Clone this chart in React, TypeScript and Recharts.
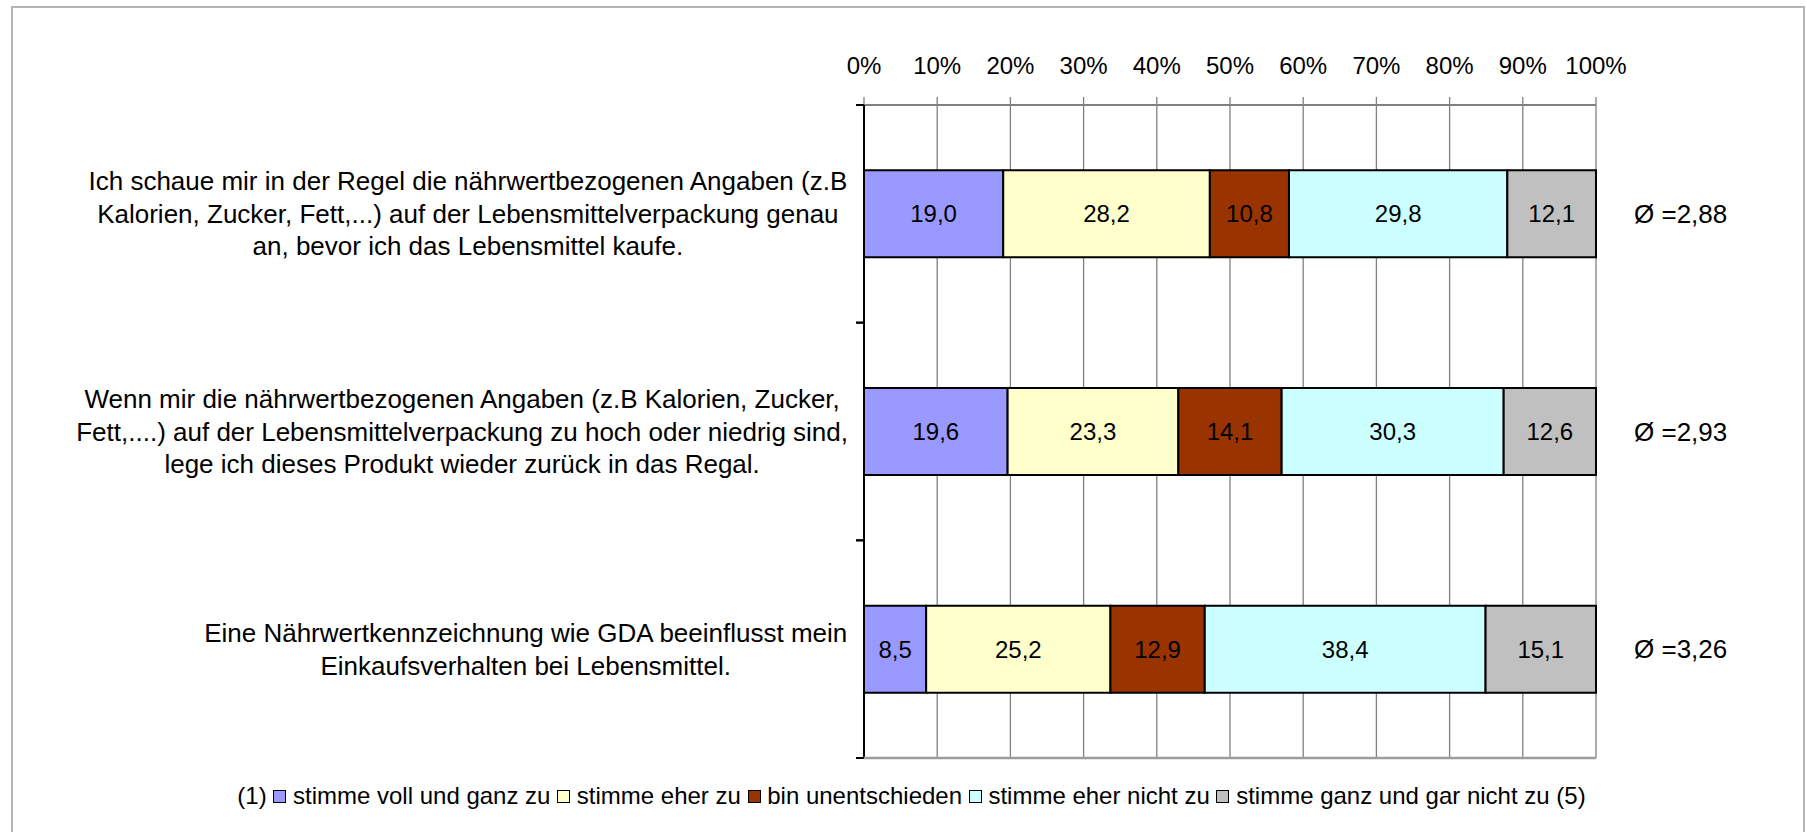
import { BarChart, Bar, XAxis, YAxis, CartesianGrid, LabelList } from "recharts";

const FONT = '"Liberation Sans", Arial, sans-serif';

const questionIds = ["q1", "q2", "q3"];
const statements = [
  [
    "Ich schaue mir in der Regel die nährwertbezogenen Angaben (z.B",
    "Kalorien, Zucker, Fett,...) auf der Lebensmittelverpackung genau",
    "an, bevor ich das Lebensmittel kaufe.",
  ],
  [
    "Wenn mir die nährwertbezogenen Angaben (z.B Kalorien, Zucker,",
    "Fett,....) auf der Lebensmittelverpackung zu hoch oder niedrig sind,",
    "lege ich dieses Produkt wieder zurück in das Regal.",
  ],
  [
    "Eine Nährwertkennzeichnung wie GDA beeinflusst mein",
    "Einkaufsverhalten bei Lebensmittel.",
  ],
];

const answers = [
  "stimme voll und ganz zu",
  "stimme eher zu",
  "bin unentschieden",
  "stimme eher nicht zu",
  "stimme ganz und gar nicht zu",
];
const answerColors = ["#9999FF", "#FFFFCC", "#993300", "#CCFFFF", "#C0C0C0"];

// percent of respondents per answer, one value per question
const vollUndGanz = [19.0, 19.6, 8.5];
const eherZu = [28.2, 23.3, 25.2];
const unentschieden = [10.8, 14.1, 12.9];
const eherNicht = [29.8, 30.3, 38.4];
const garNicht = [12.1, 12.6, 15.1];
const series = [vollUndGanz, eherZu, unentschieden, eherNicht, garNicht];

const averages = [2.88, 2.93, 3.26];
const percentTicks = [0, 10, 20, 30, 40, 50, 60, 70, 80, 90, 100];

const data = questionIds.map((id, i) => {
  const row: Record<string, number | string> = { id };
  series.forEach((s, k) => {
    row["a" + k] = s[i];
  });
  return row;
});

const CHART_W = 1807;
const CHART_H = 832;
const MARGIN = { top: 65, right: 211, bottom: 74, left: 0 };
const Y_AXIS_W = 864;
const PLOT_W = CHART_W - MARGIN.left - MARGIN.right - Y_AXIS_W;

const comma = (v: number, d: number) => v.toFixed(d).replace(".", ",");

let ctx: CanvasRenderingContext2D | null = null;
function textWidth(s: string, size: number) {
  if (!ctx) ctx = document.createElement("canvas").getContext("2d");
  if (!ctx) return s.length * size * 0.5;
  ctx.font = `${size}px "Liberation Sans"`;
  return ctx.measureText(s).width;
}

const LABEL_SIZE = 26;
const LINE_H = 32.5;

function StatementTick(props: any) {
  const { x, y, payload } = props;
  const idx = questionIds.indexOf(payload.value);
  const lines = statements[idx] || [];
  const block = Math.max(...lines.map((l) => textWidth(l, LABEL_SIZE)));
  const cx = x - block / 2;
  const axisX = x + 16;
  const half = payload.offset || 108;
  const y0 = y - ((lines.length - 1) * LINE_H) / 2;
  const isLast = idx === questionIds.length - 1;
  return (
    <g>
      {isLast && (
        // plot area bottom border
        <line
          x1={axisX}
          x2={axisX + PLOT_W}
          y1={y + half}
          y2={y + half}
          stroke="#9c9c9c"
          strokeWidth={2.5}
        />
      )}
      <line x1={axisX - 8} x2={axisX} y1={y - half} y2={y - half} stroke="#000" strokeWidth={2} />
      <line x1={axisX - 8} x2={axisX} y1={y + half} y2={y + half} stroke="#000" strokeWidth={2} />
      <text textAnchor="middle" fontSize={LABEL_SIZE} fontFamily={FONT} fill="#000">
        {lines.map((l, i) => (
          <tspan key={i} x={cx} y={y0 + i * LINE_H} dy="0.35em">
            {l}
          </tspan>
        ))}
      </text>
    </g>
  );
}

function valueLabel(k: number) {
  return (p: any) => (
    <text
      x={p.x + p.width / 2}
      y={p.y + p.height / 2}
      dy="0.35em"
      textAnchor="middle"
      fontSize={24}
      fontFamily={FONT}
      fill="#000"
    >
      {comma(series[k][p.index], 1)}
    </text>
  );
}

const averageLabel = (p: any) => (
  <text
    x={p.x + p.width + 38}
    y={p.y + p.height / 2}
    dy="0.35em"
    textAnchor="start"
    fontSize={26}
    fontFamily={FONT}
    fill="#000"
  >
    {"Ø =" + comma(averages[p.index], 2)}
  </text>
);

export default function App() {
  return (
    <div
      style={{
        position: "absolute",
        left: 0,
        top: 0,
        width: CHART_W,
        height: CHART_H,
        overflow: "hidden",
        background: "#fff",
        fontFamily: FONT,
      }}
    >
      <div
        style={{
          position: "absolute",
          left: 11,
          top: 6,
          width: 1790,
          height: 900,
          borderLeft: "2px solid #b4b4b4",
          borderTop: "2px solid #b4b4b4",
          borderRight: "2px solid #b4b4b4",
        }}
      />
      <div style={{ position: "absolute", left: 0, top: 0 }}>
        <BarChart
          width={CHART_W}
          height={CHART_H}
          data={data}
          layout="vertical"
          stackOffset="expand"
          barCategoryGap="30%"
          margin={MARGIN}
        >
          <CartesianGrid horizontal={false} stroke="#808080" strokeWidth={1.3} />
          <XAxis
            type="number"
            orientation="top"
            domain={[0, 1]}
            ticks={percentTicks.map((t) => t / 100)}
            tickFormatter={(v) => Math.round(v * 100) + "%"}
            height={40}
            tickSize={8}
            tickMargin={23}
            axisLine={{ stroke: "#808080", strokeWidth: 2 }}
            tickLine={{ stroke: "#808080", strokeWidth: 1.3 }}
            tick={{ fill: "#000", fontSize: 24, fontFamily: FONT }}
          />
          <YAxis
            type="category"
            dataKey="id"
            width={Y_AXIS_W}
            tickSize={8}
            tickMargin={8}
            tickLine={false}
            axisLine={{ stroke: "#000", strokeWidth: 2 }}
            tick={<StatementTick />}
            interval={0}
          />
          {answers.map((name, k) => (
            <Bar
              key={name}
              name={name}
              dataKey={"a" + k}
              stackId="s"
              fill={answerColors[k]}
              stroke="#000"
              strokeWidth={2}
              isAnimationActive={false}
            >
              <LabelList dataKey={"a" + k} content={valueLabel(k)} />
              {k === answers.length - 1 && <LabelList dataKey={"a" + k} content={averageLabel} />}
            </Bar>
          ))}
        </BarChart>
      </div>
      <div
        style={{
          position: "absolute",
          left: 8,
          top: 780,
          width: CHART_W,
          textAlign: "center",
          fontSize: 24,
          lineHeight: "32px",
          color: "#000",
          whiteSpace: "nowrap",
        }}
      >
        (1)
        {answers.map((name, k) => (
          <span key={name}>
            {" "}
            <span
              style={{
                display: "inline-block",
                width: 11,
                height: 11,
                background: answerColors[k],
                border: "1px solid #000",
                verticalAlign: "middle",
                marginBottom: 3,
              }}
            />{" "}
            {name}
          </span>
        ))}{" "}
        (5)
      </div>
    </div>
  );
}
